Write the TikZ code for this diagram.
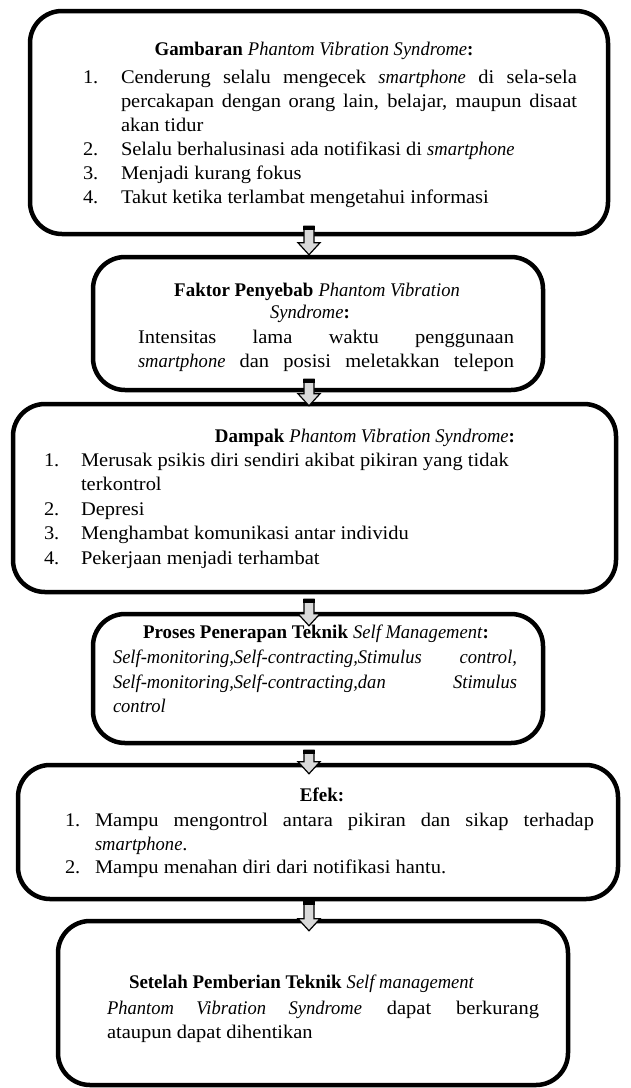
\documentclass[tikz,border=0pt]{standalone}
\usepackage{fontspec}
\setmainfont{Liberation Serif}[UprightFeatures={FakeStretch=1.06},BoldFeatures={FakeStretch=0.98},ItalicFeatures={FakeStretch=0.96}]
\usetikzlibrary{calc}
\newcommand{\blockarrow}[2]{%
  \filldraw[arr] let \p1=(#1),\p2=(#2) in
    (\x1-5pt,\y1) -- (\x1+5pt,\y1) -- (\x1+5pt,\y2+12pt) -- (\x1+11pt,\y2+12pt)
    -- (\x1,\y2) -- (\x1-11pt,\y2+12pt) -- (\x1-5pt,\y2+12pt) -- cycle;
  \fill[black] let \p1=(#1) in (\x1-5.6pt,\y1+0.6pt) rectangle (\x1+5.6pt,\y1-4pt);}
\begin{document}
\begin{tikzpicture}[x=1pt,y=-1pt,
  box/.style={draw=black,line width=4.5pt,rounded corners=32pt,inner sep=0pt},
  txt/.style={inner sep=0pt,outer sep=0pt,anchor=base west,font=\fontsize{19.3pt}{24.5pt}\selectfont},
  ttl/.style={txt,anchor=base},
  arr/.style={fill=black!15,draw=black,line width=1.2pt,line join=miter}]
\useasboundingbox (0,0) rectangle (631,1088);

% boxes
\node[box,minimum width=578pt,minimum height=223pt] (b1) at (319,122.5) {};
\node[box,minimum width=450pt,minimum height=133pt] (b2) at (318,323.5) {};
\node[box,minimum width=603pt,minimum height=188pt] (b3) at (314.5,498) {};
\node[box,minimum width=450pt,minimum height=129pt] (b4) at (318,678.5) {};
\node[box,minimum width=600pt,minimum height=134pt] (b5) at (318,832) {};
\node[box,minimum width=510pt,minimum height=164pt] (b6) at (313,1003) {};

% box 1
\node[ttl] (h1) at (314,55) {\textbf{Gambaran} \textit{Phantom Vibration Syndrome}\textbf{:}};
\node[txt] (n1a) at (83,83) {1.};
\node[txt] (l1a) at (121,83) {\makebox[456pt][s]{Cenderung selalu mengecek \textit{smartphone} di sela-sela}};
\node[txt] (l1b) at (121,107) {\makebox[456pt][s]{percakapan dengan orang lain, belajar, maupun disaat}};
\node[txt] (l1c) at (121,131) {akan tidur};
\node[txt] (n1b) at (83,155) {2.};
\node[txt] (l1d) at (121,155) {Selalu berhalusinasi ada notifikasi di \textit{smartphone}};
\node[txt] (n1c) at (83,179) {3.};
\node[txt] (l1e) at (121,179) {Menjadi kurang fokus};
\node[txt] (n1d) at (83,203) {4.};
\node[txt] (l1f) at (121,203) {Takut ketika terlambat mengetahui informasi};

% box 2
\node[ttl] (h2a) at (317,296) {\textbf{Faktor Penyebab} \textit{Phantom Vibration}};
\node[ttl] (h2b) at (310,318) {\textit{Syndrome}\textbf{:}};
\node[txt] (l2a) at (138,343) {\makebox[376pt][s]{Intensitas lama waktu penggunaan}};
\node[txt] (l2b) at (138,367) {\makebox[376pt][s]{\textit{smartphone} dan posisi meletakkan telepon}};

% box 3
\node[txt,anchor=base east] (h3) at (515,442) {\textbf{Dampak} \textit{Phantom Vibration Syndrome}\textbf{:}};
\node[txt] (n3a) at (44,466) {1.};
\node[txt] (l3a) at (81,466) {Merusak psikis diri sendiri akibat pikiran yang tidak};
\node[txt] (l3b) at (81,490) {terkontrol};
\node[txt] (n3b) at (44,515) {2.};
\node[txt] (l3c) at (81,515) {Depresi};
\node[txt] (n3c) at (44,539) {3.};
\node[txt] (l3d) at (81,539) {Menghambat komunikasi antar individu};
\node[txt] (n3d) at (44,564) {4.};
\node[txt] (l3e) at (81,564) {Pekerjaan menjadi terhambat};

% box 4
\node[ttl] (h4) at (316,638) {\textbf{Proses Penerapan Teknik} \textit{Self Management}\textbf{:}};
\node[txt] (l4a) at (113,663) {\makebox[404pt][s]{\textit{Self-monitoring,Self-contracting,Stimulus control,}}};
\node[txt] (l4b) at (113,688) {\makebox[404pt][s]{\textit{Self-monitoring,Self-contracting,dan Stimulus}}};
\node[txt] (l4c) at (113,712) {\textit{control}};

% box 5
\node[ttl] (h5) at (322,801) {\textbf{Efek:}};
\node[txt] (n5a) at (65,826) {1.};
\node[txt] (l5a) at (95,826) {\makebox[499pt][s]{Mampu mengontrol antara pikiran dan sikap terhadap}};
\node[txt] (l5b) at (95,850) {\textit{smartphone}.};
\node[txt] (n5b) at (65,873) {2.};
\node[txt] (l5c) at (95,873) {Mampu menahan diri dari notifikasi hantu.};

% box 6
\node[txt] (h6) at (129,988) {\textbf{Setelah Pemberian Teknik} \textit{Self management}};
\node[txt] (l6a) at (107,1014) {\makebox[432pt][s]{\textit{Phantom Vibration Syndrome} dapat berkurang}};
\node[txt] (l6b) at (107,1038) {ataupun dapat dihentikan};

% arrows
\coordinate (ax) at (309,0);
\coordinate (a1s) at ($(b1.south -| ax)+(0,-10)$);
\coordinate (a1e) at ($(b2.north -| ax)+(0,0)$);
\coordinate (a2s) at ($(b2.south -| ax)+(0,-13)$);
\coordinate (a2e) at ($(b3.north -| ax)+(0,4)$);
\coordinate (a3s) at ($(b3.south -| ax)+(0,5)$);
\coordinate (a3e) at ($(b4.north -| ax)+(0,14)$);
\coordinate (a4s) at ($(b4.south -| ax)+(0,5)$);
\coordinate (a4e) at ($(b5.north -| ax)+(0,11)$);
\coordinate (a5s) at ($(b5.south -| ax)+(0,0)$);
\coordinate (a5e) at ($(b6.north -| ax)+(0,12)$);
\blockarrow{a1s}{a1e}
\blockarrow{a2s}{a2e}
\blockarrow{a3s}{a3e}
\blockarrow{a4s}{a4e}
\blockarrow{a5s}{a5e}
\end{tikzpicture}
\end{document}
